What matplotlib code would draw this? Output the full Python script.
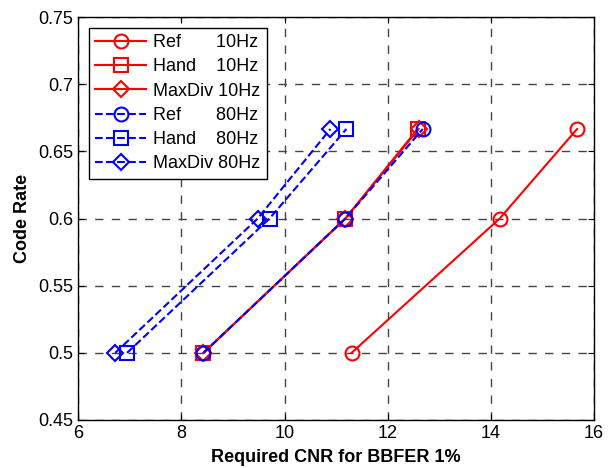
import matplotlib
matplotlib.use("Agg")
import matplotlib.pyplot as plt

plt.rcParams['font.family'] = ['Liberation Sans', 'DejaVu Sans']

rate = [0.5, 0.6, 2.0 / 3.0]

ref10 = [11.3, 14.17, 15.67]
hand10 = [8.43, 11.18, 12.58]
maxdiv10 = [8.43, 11.18, 12.6]
ref80 = [8.43, 11.18, 12.68]
hand80 = [6.95, 9.71, 11.2]
maxdiv80 = [6.72, 9.48, 10.89]

labels = ["Ref       10Hz", "Hand    10Hz", "MaxDiv 10Hz",
          "Ref       80Hz", "Hand    80Hz", "MaxDiv 80Hz"]

fig = plt.figure(figsize=(6.1, 4.68), dpi=100)
ax = fig.add_axes([0.128, 0.1026, 0.846, 0.861])

kw = dict(linewidth=1.5, markersize=10, markerfacecolor='none', markeredgewidth=1.5)
ax.plot(ref10, rate, '-o', color='red', label=labels[0], **kw)
ax.plot(hand10, rate, '-s', color='red', label=labels[1], **kw)
ax.plot(maxdiv10, rate, '-D', color='red', label=labels[2], **dict(kw, markersize=8))
ax.plot(ref80, rate, '--o', color='blue', label=labels[3], **kw)
ax.plot(hand80, rate, '--s', color='blue', label=labels[4], **kw)
ax.plot(maxdiv80, rate, '--D', color='blue', label=labels[5], **dict(kw, markersize=8))

ax.set_xlim(6, 16)
ax.set_ylim(0.45, 0.75)
ax.set_xticks([6, 8, 10, 12, 14, 16])
ax.set_yticks([0.45, 0.5, 0.55, 0.6, 0.65, 0.7, 0.75])
ax.set_yticklabels(['0.45', '0.5', '0.55', '0.6', '0.65', '0.7', '0.75'])
ax.tick_params(direction='in', labelsize=13, top=True, right=True, length=4)
ax.grid(True, color='#444444', linestyle=(0, (6, 6)), linewidth=1.0)
for s in ax.spines.values():
    s.set_linewidth(1.0)

ax.set_xlabel('Required CNR for BBFER 1%', fontsize=13, fontweight='bold', labelpad=5)
ax.set_ylabel('Code Rate', fontsize=13, fontweight='bold', labelpad=5)

leg = ax.legend(loc='upper left', fontsize=13, fancybox=False, framealpha=1,
                edgecolor='black', handlelength=2.8, borderaxespad=0.6,
                labelspacing=0.4, handletextpad=0.4, borderpad=0.35)
leg.get_frame().set_linewidth(1.0)

fig.savefig('out.png', dpi=100)
